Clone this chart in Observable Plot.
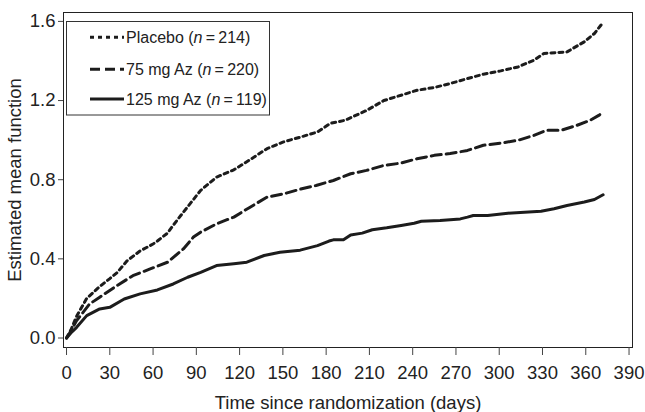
<!DOCTYPE html>
<html><head><meta charset="utf-8">
<script src="https://cdn.jsdelivr.net/npm/d3@7"></script>
<script src="https://cdn.jsdelivr.net/npm/@observablehq/plot@0.6"></script>
<style>
body{margin:0;background:#fff}
#chart{position:relative;width:645px;height:412px}
</style>
</head><body><div id="chart"></div>
<script>
// Data (days, estimated mean function)
const placeboT = [0,3,7,14,23,30,35,42,51,60,63,70,74,81,88,93,104,116,127,139,150,162,174,183,193,208,220,232,243,255,266,278,289,301,313,324,331,347,359,366,372];
const placeboV = [0,0.04,0.11,0.2,0.26,0.30,0.33,0.39,0.44,0.475,0.49,0.53,0.57,0.636,0.70,0.746,0.813,0.85,0.90,0.957,0.99,1.015,1.041,1.085,1.10,1.15,1.20,1.227,1.252,1.266,1.286,1.311,1.333,1.35,1.37,1.404,1.438,1.446,1.497,1.539,1.595];
const m75T = [0,3,7,16,23,35,46,58,70,81,88,93,104,116,127,139,151,162,173,185,197,208,220,232,243,255,266,278,289,301,313,324,333,343,354,363,369,371];
const m75V = [0,0.035,0.088,0.172,0.206,0.265,0.315,0.349,0.383,0.45,0.51,0.535,0.577,0.611,0.66,0.712,0.729,0.752,0.771,0.796,0.83,0.847,0.872,0.884,0.906,0.923,0.932,0.948,0.974,0.985,0.999,1.024,1.05,1.05,1.075,1.10,1.125,1.135];
const m125T = [0,3,7,14,23,30,40,51,63,74,84,93,104,116,125,137,148,162,174,182,185,192,197,205,212,222,232,241,246,259,273,278,282,292,306,329,338,347,359,366,372];
const m125V = [0,0.025,0.054,0.113,0.147,0.155,0.197,0.223,0.243,0.273,0.307,0.332,0.366,0.375,0.383,0.417,0.433,0.444,0.467,0.49,0.496,0.496,0.521,0.53,0.547,0.557,0.569,0.58,0.59,0.594,0.602,0.611,0.619,0.619,0.631,0.641,0.653,0.67,0.687,0.70,0.724];

const seriesNames = ["Placebo", "75 mg Az", "125 mg Az"];
const seriesN = [214, 220, 119];
const xTicks = [0,30,60,90,120,150,180,210,240,270,300,330,360,390];
const yTicks = [0.0,0.4,0.8,1.2,1.6];
const xLabel = "Time since randomization (days)";
const yLabel = "Estimated mean function";

const dashes = ["4,4", "10,5", null];
const ink = "#1c1c1c";

const toRows = (T, V) => T.map((t, i) => ({t, v: V[i]}));
const rows = [toRows(placeboT, placeboV), toRows(m75T, m75V), toRows(m125T, m125V)];

const font = "'Liberation Sans', Arial, Helvetica, sans-serif";

const plot = Plot.plot({
  width: 645, height: 412,
  marginLeft: 63, marginTop: 12, marginRight: 13, marginBottom: 65,
  style: {fontFamily: font, fontSize: "18.5px", color: "#222", background: "#fff"},
  x: {domain: [-2.1, 392.4]},
  y: {domain: [-0.048, 1.645]},
  marks: [
    Plot.frame({stroke: "#222", strokeWidth: 1}),
    Plot.axisX({ticks: xTicks, tickSize: 8, tickPadding: 10, label: xLabel, labelAnchor: "center", labelArrow: false, labelOffset: 61, stroke: "#444"}),
    Plot.axisY({ticks: yTicks, tickFormat: d3.format(".1f"), tickSize: 5, tickPadding: 3, label: yLabel, labelAnchor: "center", labelArrow: false, labelOffset: 56, stroke: "#444"}),
    ...rows.map((r, i) => Plot.line(r, {x: "t", y: "v", stroke: ink, strokeWidth: 3, strokeDasharray: dashes[i], strokeLinejoin: "round"}))
  ]
});
document.getElementById("chart").appendChild(plot);

// Legend inside plot (top-left)
const svg = d3.select(plot);
const lg = svg.append("g").attr("font-family", font).attr("font-size", "16px").attr("fill", "#222").attr("text-anchor", "start");
lg.append("rect").attr("x", 66.5).attr("y", 21.5).attr("width", 203).attr("height", 93.5)
  .attr("fill", "#fff").attr("stroke", "#333").attr("stroke-width", 1);
const rowY = [37.3, 69.3, 99];
seriesNames.forEach((name, i) => {
  const l = lg.append("line").attr("x1", 90).attr("x2", 124).attr("y1", rowY[i]).attr("y2", rowY[i])
    .attr("stroke", ink).attr("stroke-width", 3);
  if (dashes[i]) l.attr("stroke-dasharray", dashes[i]);
  const t = lg.append("text").attr("x", 126).attr("y", rowY[i]).attr("dy", "0.35em").attr("text-anchor", "start");
  t.append("tspan").text(name + " (");
  t.append("tspan").attr("font-style", "italic").text("n");
  t.append("tspan").text("\u2009=\u2009" + seriesN[i] + ")");
});
</script>
</body></html>
